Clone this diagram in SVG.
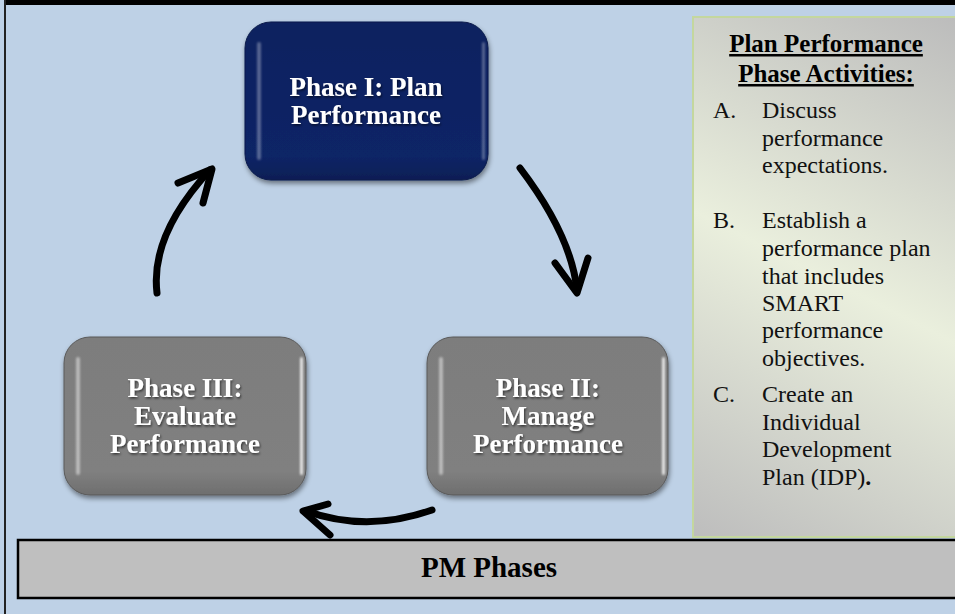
<svg xmlns="http://www.w3.org/2000/svg" width="955" height="614" viewBox="0 0 955 614">
<style>
.ph{font-family:"Liberation Serif","Times New Roman",serif;font-weight:bold;font-size:27px;fill:#fff;text-anchor:middle;filter:url(#ts)}
.tt{font-family:"Liberation Serif","Times New Roman",serif;font-weight:bold;font-size:25px;fill:#000;text-anchor:middle;text-decoration:underline}
.li{font-family:"Liberation Serif","Times New Roman",serif;font-size:24px;fill:#111}
.bar{font-family:"Liberation Serif","Times New Roman",serif;font-weight:bold;font-size:29px;fill:#000;text-anchor:middle}
.arr{fill:none;stroke:#000;stroke-width:7;stroke-linecap:round;stroke-linejoin:round}
.hl{fill:#fff;filter:url(#bl)}
</style>
<defs>
<filter id="ds" x="-10%" y="-10%" width="125%" height="130%">
<feDropShadow dx="1" dy="3" stdDeviation="2.5" flood-color="#000" flood-opacity="0.45"/>
</filter>
<filter id="ts" x="-5%" y="-20%" width="115%" height="150%">
<feDropShadow dx="1" dy="1.5" stdDeviation="0.8" flood-color="#000" flood-opacity="0.6"/>
</filter>
<filter id="bl" x="-300%" y="-10%" width="700%" height="120%">
<feGaussianBlur stdDeviation="1.2"/>
</filter>
<linearGradient id="blue" x1="0" y1="0" x2="0" y2="1">
<stop offset="0" stop-color="#0A2060"/>
<stop offset="0.85" stop-color="#0B2566"/>
<stop offset="1" stop-color="#0A1E55"/>
</linearGradient>
<linearGradient id="gray" x1="0" y1="0" x2="0" y2="1">
<stop offset="0" stop-color="#7D7D7D"/>
<stop offset="0.85" stop-color="#808080"/>
<stop offset="1" stop-color="#6E6E6E"/>
</linearGradient>
<linearGradient id="panel" gradientUnits="userSpaceOnUse" x1="693" y1="537" x2="955" y2="17">
<stop offset="0" stop-color="#BDBDBD"/>
<stop offset="0.5" stop-color="#EAEFDD"/>
<stop offset="1" stop-color="#BCBCBC"/>
</linearGradient>
</defs>
<rect x="0" y="0" width="955" height="614" fill="#BED1E6"/>
<rect x="0" y="0" width="955" height="5" fill="#000"/>
<rect x="4" y="0" width="2" height="614" fill="#222"/>
<rect x="0" y="0" width="4" height="614" fill="#BED1E6"/>

<g id="panel-activities">
<rect x="693" y="17" width="270" height="520" fill="url(#panel)" stroke="#C4D79E" stroke-width="2"/>
<text class="tt" x="826" y="52">Plan Performance</text>
<text class="tt" x="826" y="82">Phase Activities:</text>
<text class="li" x="713" y="118">A.</text>
<text class="li" x="762" y="118">Discuss</text>
<text class="li" x="762" y="146">performance</text>
<text class="li" x="762" y="173">expectations.</text>
<text class="li" x="713" y="228">B.</text>
<text class="li" x="762" y="228">Establish a</text>
<text class="li" x="762" y="256">performance plan</text>
<text class="li" x="762" y="284">that includes</text>
<text class="li" x="762" y="311">SMART</text>
<text class="li" x="762" y="338">performance</text>
<text class="li" x="762" y="366">objectives.</text>
<text class="li" x="713" y="402">C.</text>
<text class="li" x="762" y="402">Create an</text>
<text class="li" x="762" y="430">Individual</text>
<text class="li" x="762" y="457">Development</text>
<text class="li" x="762" y="485">Plan (IDP)<tspan font-weight="bold">.</tspan></text>
</g>

<g id="phase1">
<rect x="245" y="22" width="243" height="158" rx="26" fill="url(#blue)" stroke="#081A4A" stroke-width="1" filter="url(#ds)"/>
<rect class="hl" x="257" y="42" width="4" height="118" rx="2" opacity="0.3"/>
<rect class="hl" x="482" y="42" width="3" height="118" rx="1.5" opacity="0.3"/>
<text class="ph" x="366" y="96">Phase I: Plan</text>
<text class="ph" x="366" y="124">Performance</text>
</g>

<g id="phase2">
<rect x="427" y="337" width="241" height="158" rx="26" fill="url(#gray)" stroke="#5A5A5A" stroke-width="1" filter="url(#ds)"/>
<rect class="hl" x="439" y="357" width="4" height="118" rx="2" opacity="0.45"/>
<rect class="hl" x="662" y="357" width="3" height="118" rx="1.5" opacity="0.8"/>
<text class="ph" x="548" y="397">Phase II:</text>
<text class="ph" x="548" y="425">Manage</text>
<text class="ph" x="548" y="453">Performance</text>
</g>

<g id="phase3">
<rect x="64" y="337" width="242" height="158" rx="26" fill="url(#gray)" stroke="#5A5A5A" stroke-width="1" filter="url(#ds)"/>
<rect class="hl" x="76" y="357" width="4" height="118" rx="2" opacity="0.45"/>
<rect class="hl" x="300" y="357" width="3" height="118" rx="1.5" opacity="0.8"/>
<text class="ph" x="185" y="397">Phase III:</text>
<text class="ph" x="185" y="425">Evaluate</text>
<text class="ph" x="185" y="453">Performance</text>
</g>

<g id="connectors">
<path class="arr" d="M157,293 Q150,235 210,170"/>
<path class="arr" d="M178,183 L212,169 L203,203"/>
<path class="arr" d="M520,168 Q571,235 577,290"/>
<path class="arr" d="M555,263 L577,293 L588,258"/>
<path class="arr" d="M432,510 Q367,533 306,511"/>
<path class="arr" d="M328,504 L303,511 L330,535"/>
</g>

<g id="pm-phases">
<rect x="18" y="540" width="950" height="58" fill="#BFBFBF" stroke="#000" stroke-width="2.5"/>
<text class="bar" x="489" y="577">PM Phases</text>
</g>
</svg>
